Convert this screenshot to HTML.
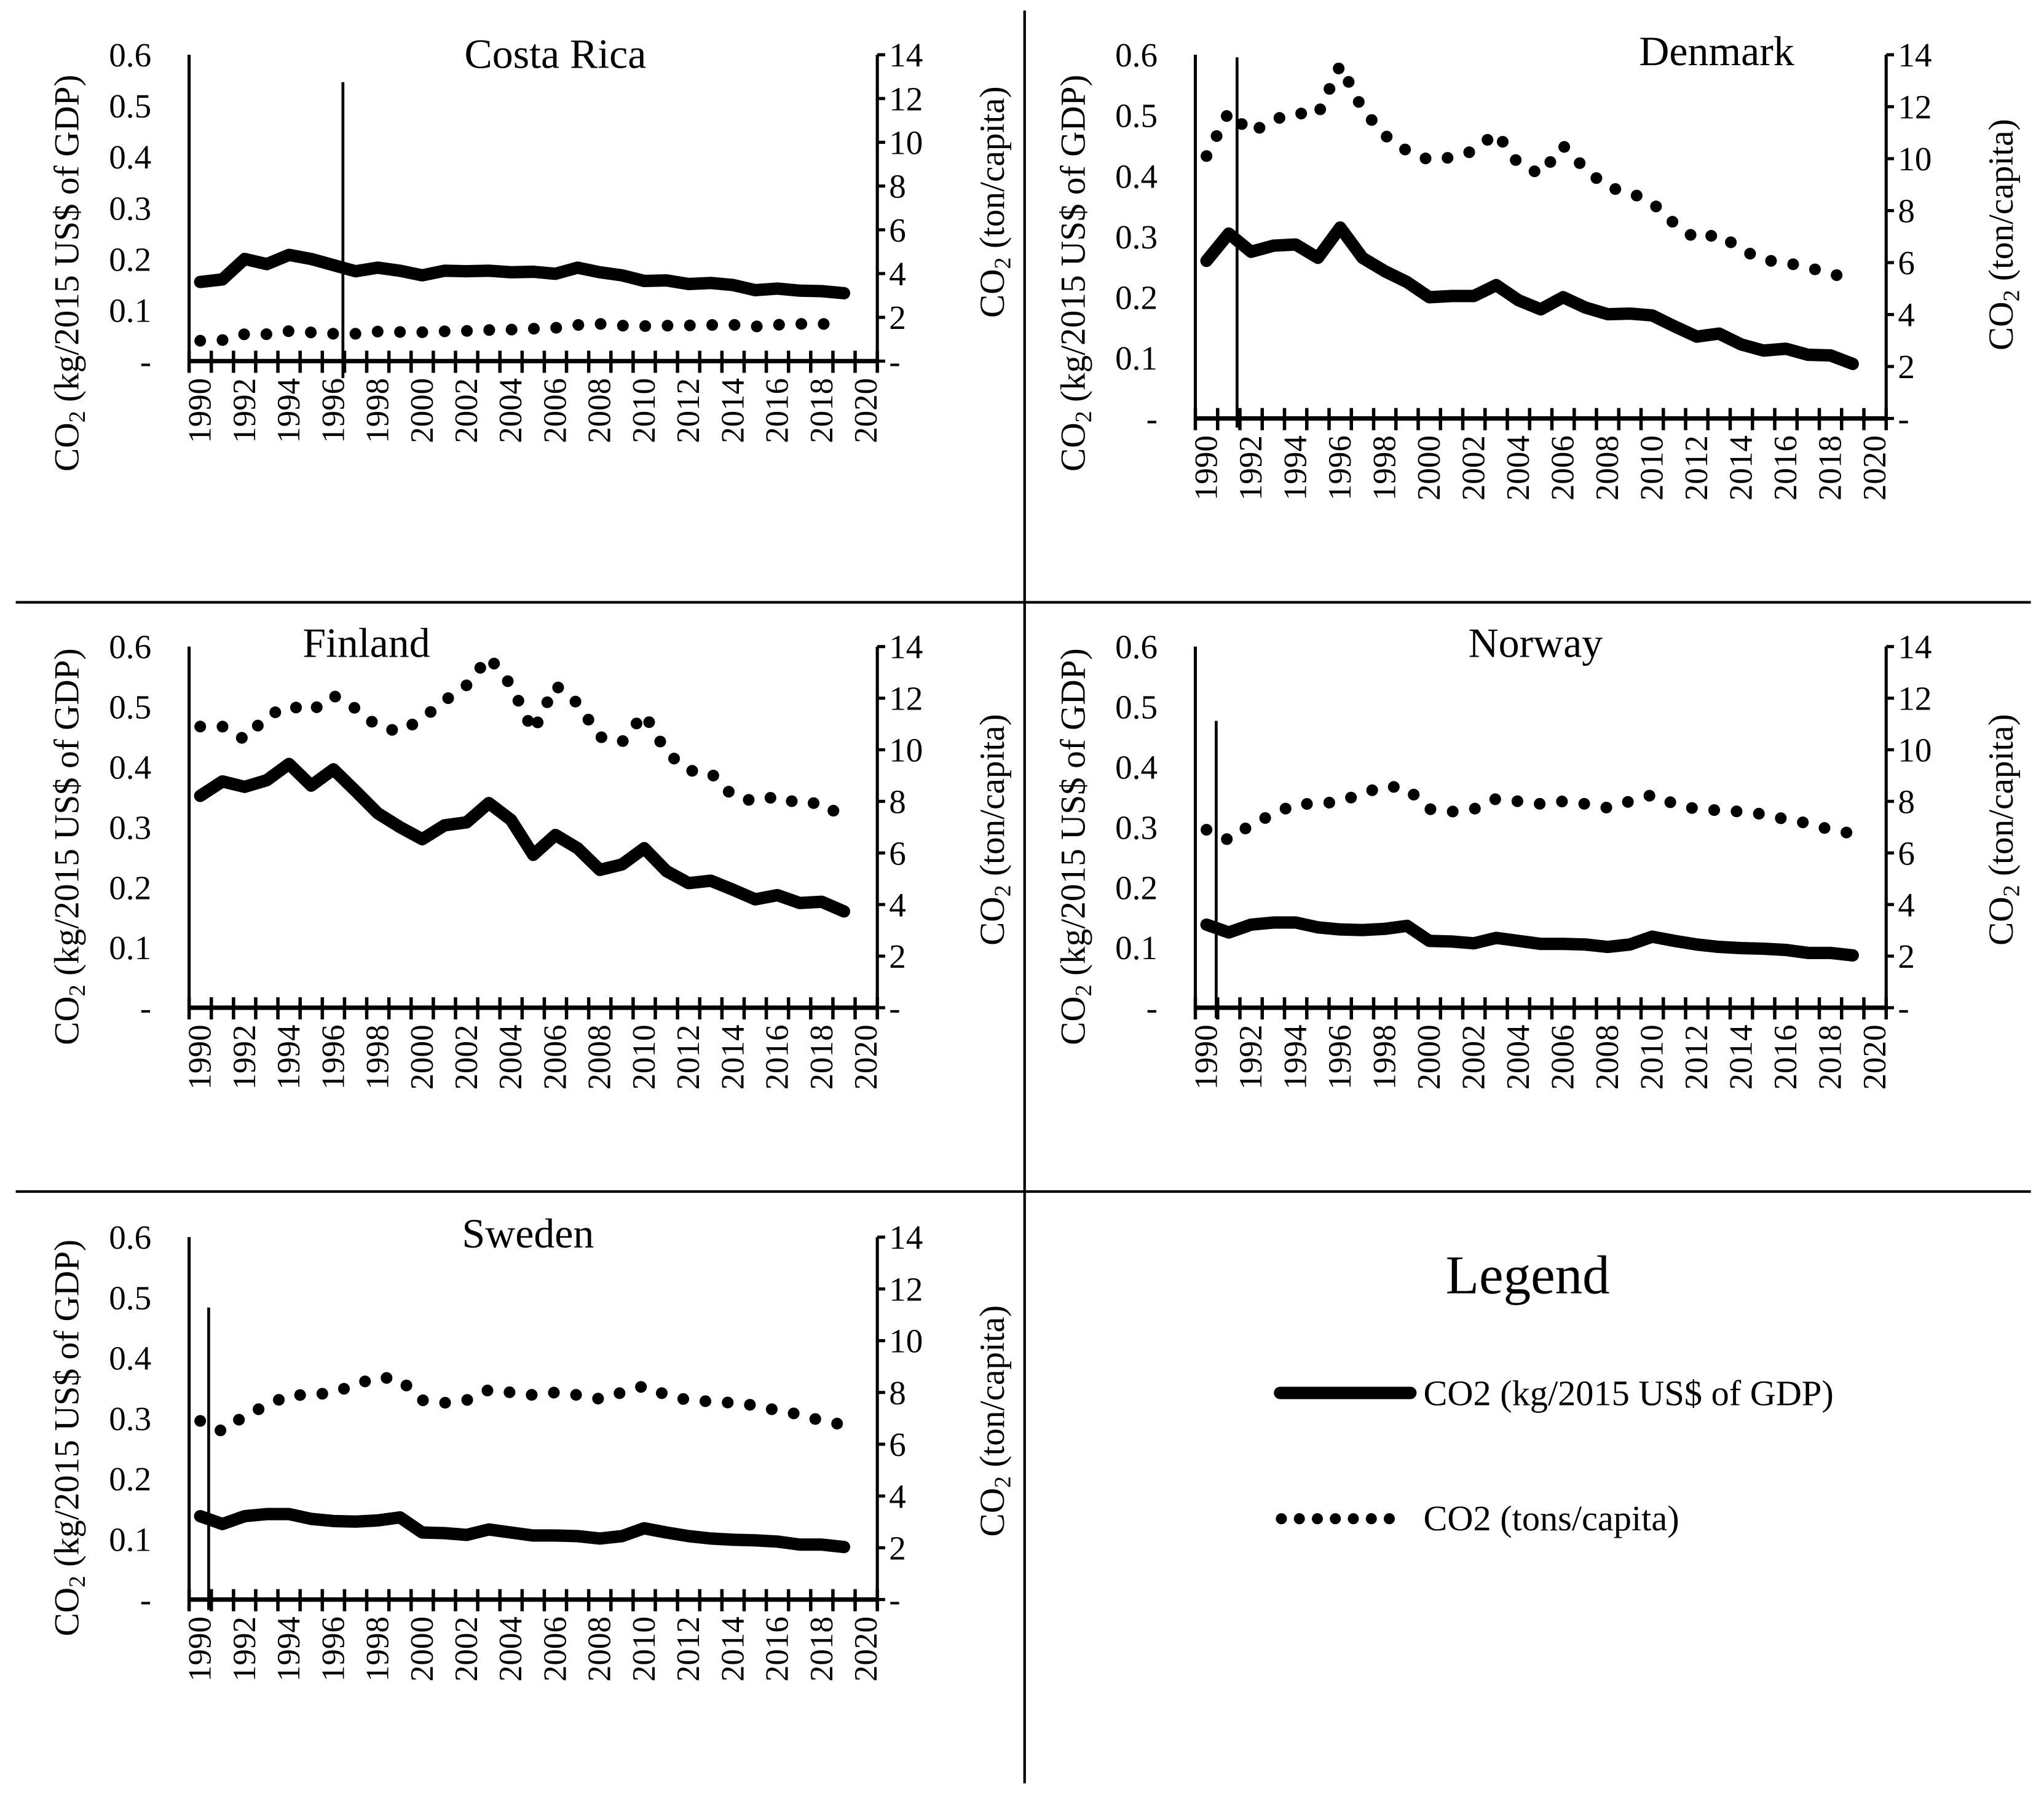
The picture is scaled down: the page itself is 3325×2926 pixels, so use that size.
<!DOCTYPE html>
<html><head><meta charset="utf-8"><title>CO2 emissions panels</title>
<style>
html,body{margin:0;padding:0;background:#fff;}
svg{display:block;}
text{font-family:"Liberation Serif","DejaVu Serif",serif;fill:#000;}
</style></head>
<body>
<svg id="fig" xmlns="http://www.w3.org/2000/svg" width="3325" height="2926" viewBox="0 0 1568 1380">
  <rect x="0" y="0" width="1568" height="1380" fill="#fff"/>
  <line x1="786" y1="8" x2="786" y2="1368" stroke="#000" stroke-width="2"/>
  <line x1="12" y1="462" x2="1558" y2="462" stroke="#000" stroke-width="2"/>
  <line x1="12" y1="914" x2="1558" y2="914" stroke="#000" stroke-width="2"/>
  <g>
    <text x="1172" y="992" font-size="42" text-anchor="middle">Legend</text>
    <line x1="982" y1="1068.5" x2="1082" y2="1068.5" stroke="#000" stroke-width="9.5" stroke-linecap="round"/>
    <text x="1092" y="1078" font-size="27.5">CO2 (kg/2015 US$ of GDP)</text>
    <line x1="983" y1="1165" x2="1067" y2="1165" stroke="#000" stroke-width="8.5" stroke-linecap="round" stroke-dasharray="0 13.8"/>
    <text x="1092" y="1174" font-size="27.5">CO2 (tons/capita)</text>
  </g>
</svg>
<script>
const years = [1990,1991,1992,1993,1994,1995,1996,1997,1998,1999,2000,2001,2002,2003,2004,2005,2006,2007,2008,2009,2010,2011,2012,2013,2014,2015,2016,2017,2018,2019];
const xTickLabels = ['1990','1992','1994','1996','1998','2000','2002','2004','2006','2008','2010','2012','2014','2016','2018','2020'];
const leftTickLabels = ['-','0.1','0.2','0.3','0.4','0.5','0.6'];
const leftTickValues = [0,0.1,0.2,0.3,0.4,0.5,0.6];
const rightTickLabels = ['-','2','4','6','8','10','12','14'];
const rightTickValues = [0,2,4,6,8,10,12,14];

const crGdp = [0.155,0.16,0.2,0.19,0.208,0.2,0.188,0.176,0.183,0.177,0.168,0.177,0.176,0.177,0.174,0.175,0.171,0.183,0.174,0.168,0.157,0.158,0.151,0.153,0.149,0.139,0.142,0.138,0.137,0.133];
const crCap = [0.93,0.96,1.23,1.23,1.37,1.31,1.25,1.25,1.35,1.33,1.32,1.36,1.38,1.42,1.44,1.48,1.52,1.65,1.7,1.62,1.6,1.62,1.63,1.65,1.66,1.58,1.66,1.7,1.7,1.66];
const dkGdp = [0.26,0.305,0.275,0.285,0.287,0.265,0.315,0.265,0.243,0.225,0.2,0.202,0.202,0.22,0.195,0.18,0.2,0.183,0.172,0.173,0.17,0.152,0.135,0.14,0.122,0.112,0.115,0.105,0.104,0.09];
const dkCap = [10.1,11.8,11.0,11.5,11.75,11.7,13.6,11.9,10.9,10.3,9.95,10.05,10.3,11.0,9.8,9.4,10.5,9.6,8.9,8.7,8.3,7.5,6.9,7.1,6.5,6.1,6.0,5.8,5.6,5.3];
const fiGdp = [0.352,0.376,0.367,0.378,0.405,0.369,0.396,0.36,0.323,0.3,0.28,0.303,0.308,0.34,0.312,0.254,0.287,0.265,0.229,0.238,0.265,0.227,0.207,0.211,0.196,0.18,0.187,0.174,0.176,0.16];
const fiCap = [10.9,10.9,10.4,11.3,11.7,11.5,12.1,11.6,10.9,10.7,11.2,11.9,12.5,13.6,12.5,10.7,12.5,11.8,10.5,10.3,11.4,9.9,9.2,9.1,8.2,8.0,8.2,7.9,7.95,7.35];
const noGdp = [0.138,0.125,0.138,0.1415,0.1415,0.1335,0.13,0.129,0.131,0.136,0.111,0.11,0.107,0.116,0.111,0.106,0.106,0.105,0.101,0.105,0.118,0.111,0.105,0.101,0.099,0.098,0.096,0.091,0.091,0.087];
const noCap = [6.9,6.5,7.1,7.5,7.9,7.9,8.0,8.3,8.6,8.5,7.7,7.6,7.7,8.1,8.0,7.9,8.0,7.9,7.75,8.0,8.25,7.9,7.7,7.65,7.6,7.5,7.3,7.15,6.9,6.75];
const seGdp = [0.138,0.125,0.138,0.1415,0.1415,0.1335,0.13,0.129,0.131,0.136,0.111,0.11,0.107,0.116,0.111,0.106,0.106,0.105,0.101,0.105,0.118,0.111,0.105,0.101,0.099,0.098,0.096,0.091,0.091,0.087];
const seCap = [6.9,6.5,7.1,7.5,7.9,7.9,8.0,8.3,8.6,8.5,7.7,7.6,7.7,8.1,8.0,7.9,8.0,7.9,7.75,8.0,8.25,7.9,7.7,7.65,7.6,7.5,7.3,7.15,6.9,6.75];

const NS = 'http://www.w3.org/2000/svg';
const svg = document.getElementById('fig');

function el(parent, tag, attrs, name) {
  const e = document.createElementNS(NS, tag);
  for (const k in attrs) e.setAttribute(k, attrs[k]);
  
  
  parent.appendChild(e);
  return e;
}

const panels = [
  {key:'costa-rica', title:'Costa Rica', gdp:crGdp, cap:crCap, L:145, R:673, T:42, B:277, titleX:426, titleY:52, extra:{x:263,y1:63,y2:290}},
  {key:'denmark', title:'Denmark', gdp:dkGdp, cap:dkCap, L:917, R:1447, T:42, B:321, titleX:1317, titleY:50, extra:{x:949,y1:44,y2:328}},
  {key:'finland', title:'Finland', gdp:fiGdp, cap:fiCap, L:145, R:673, T:496, B:773, titleX:281, titleY:504, extra:null},
  {key:'norway', title:'Norway', gdp:noGdp, cap:noCap, L:917, R:1447, T:496, B:773, titleX:1178, titleY:504, extra:{x:933,y1:553,y2:781}},
  {key:'sweden', title:'Sweden', gdp:seGdp, cap:seCap, L:145, R:673, T:949, B:1227, titleX:405, titleY:957, extra:{x:160,y1:1003,y2:1235}}
];

panels.forEach(p => {
  const g = el(svg, 'g', {}, p.key + '-panel');
  const band = (p.R - p.L) / 31;
  const xScale = i => p.L + band * (i + 0.5);
  const yL = v => p.B - (v / 0.6) * (p.B - p.T);
  const yR = v => p.B - (v / 14) * (p.B - p.T);

  const t = el(g, 'text', {x:p.titleX, y:p.titleY, 'font-size':32, 'text-anchor':'middle'}, p.key + '-title');
  t.textContent = p.title;

  el(g, 'line', {x1:p.L, y1:p.T, x2:p.L, y2:p.B, stroke:'#000', 'stroke-width':2.4}, p.key + '-left-axis');
  el(g, 'line', {x1:p.R, y1:p.T, x2:p.R, y2:p.B, stroke:'#000', 'stroke-width':2.4}, p.key + '-right-axis');
  if (p.extra) {
    el(g, 'line', {x1:p.extra.x, y1:p.extra.y1, x2:p.extra.x, y2:p.extra.y2, stroke:'#000', 'stroke-width':2.2}, p.key + '-marker-line');
  }

  leftTickValues.forEach((v, i) => {
    const tx = el(g, 'text', {x:p.L - 29, y:yL(v) + 9, 'font-size':26, 'text-anchor':'end'}, p.key + '-left-tick-label');
    tx.textContent = leftTickLabels[i];
  });
  rightTickValues.forEach((v, i) => {
    el(g, 'line', {x1:p.R, y1:yR(v), x2:p.R + 6, y2:yR(v), stroke:'#000', 'stroke-width':2.4}, p.key + '-right-tick');
    const tx = el(g, 'text', {x:p.R + 9, y:yR(v) + 9, 'font-size':26}, p.key + '-right-tick-label');
    tx.textContent = rightTickLabels[i];
  });

  el(g, 'line', {x1:p.L - 1, y1:p.B, x2:p.R + 1, y2:p.B, stroke:'#000', 'stroke-width':3.4}, p.key + '-x-axis');
  for (let i = 0; i <= 31; i++) {
    const x = p.L + band * i;
    el(g, 'line', {x1:x, y1:p.B - 8, x2:x, y2:p.B + 9, stroke:'#000', 'stroke-width':2.6}, p.key + '-x-tick');
  }
  xTickLabels.forEach((lab, j) => {
    const cx = xScale(j * 2) + 8;
    const tx = el(g, 'text', {transform:'translate(' + cx + ',' + (p.B + 13) + ') rotate(-90)', 'font-size':25, 'text-anchor':'end'}, p.key + '-x-tick-label');
    tx.textContent = lab;
  });

  const lx = p.L - 95;
  const lcy = (p.T + p.B) / 2 + (p.key === 'denmark' || p.key === 'costa-rica' ? (p.key === 'costa-rica' ? 50 : 28) : 15);
  const lt = el(g, 'text', {transform:'translate(' + (lx + 10) + ',' + lcy + ') rotate(-90)', 'font-size':27, 'text-anchor':'middle'}, p.key + '-left-axis-title');
  lt.innerHTML = 'CO<tspan font-size="18" dy="5">2</tspan><tspan dy="-5"> (kg/2015 US$ of GDP)</tspan>';
  const rcy = (p.key === 'costa-rica') ? 155 : (p.key === 'denmark' ? 180 : (p.T + p.B) / 2 + 2);
  const rt = el(g, 'text', {transform:'translate(' + (p.R + 97) + ',' + rcy + ') rotate(-90)', 'font-size':27, 'text-anchor':'middle'}, p.key + '-right-axis-title');
  rt.innerHTML = 'CO<tspan font-size="18" dy="5">2</tspan><tspan dy="-5"> (ton/capita)</tspan>';

  const gdpPts = p.gdp.map((v, i) => xScale(i).toFixed(2) + ',' + yL(v).toFixed(2)).join(' ');
  el(g, 'polyline', {points:gdpPts, fill:'none', stroke:'#000', 'stroke-width':9.5, 'stroke-linejoin':'round', 'stroke-linecap':'round'}, p.key + '-gdp-line');
  const capPts = p.cap.map((v, i) => xScale(i).toFixed(2) + ',' + yR(v).toFixed(2)).join(' ');
  el(g, 'polyline', {points:capPts, fill:'none', stroke:'#000', 'stroke-width':9, 'stroke-linecap':'round', 'stroke-dasharray':'0 ' + (band + 0.1).toFixed(2)}, p.key + '-capita-dotted-line');
});
</script>
</body></html>
